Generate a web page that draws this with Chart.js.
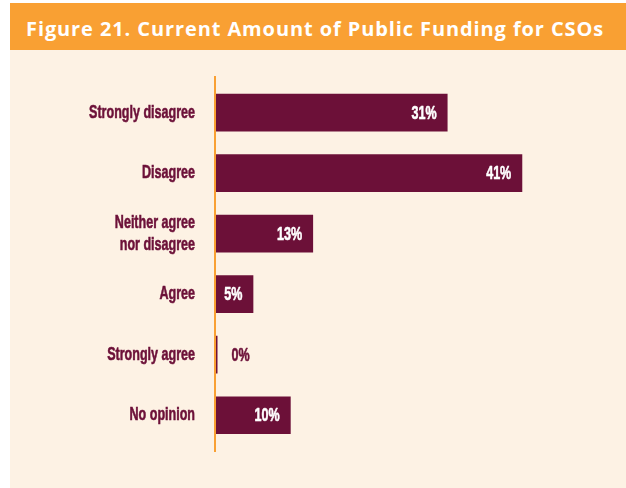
<!DOCTYPE html>
<html>
<head>
<meta charset="utf-8">
<script src="https://cdn.jsdelivr.net/npm/chart.js@4"></script>
<style>
  html, body { margin: 0; padding: 0; background: #ffffff; }
  #header {
    position: absolute; left: 10px; top: 3px; width: 616px; height: 47px;
    background: #F9A033; color: #ffffff; overflow: hidden;
    font-family: "Open Sans", "DejaVu Sans", sans-serif; font-weight: 700;
    font-size: 20px; letter-spacing: 0.9px; line-height: 51px; padding-left: 16px; box-sizing: border-box;
    white-space: nowrap;
  }
  #panel {
    position: absolute; left: 10px; top: 50px; width: 616px; height: 438px;
    background: #FDF2E4;
  }
  canvas { position: absolute; left: 0; top: 0; }
</style>
</head>
<body>
<div id="header">Figure 21. Current Amount of Public Funding for CSOs</div>
<div id="panel"><canvas id="c" width="616" height="438"></canvas></div>
<script>
const categories = [
  "Strongly disagree",
  "Disagree",
  ["Neither agree", "nor disagree"],
  "Agree",
  "Strongly agree",
  "No opinion"
];
const values = [31, 41, 13, 5, 0.2, 10];
const valueLabels = ["31%", "41%", "13%", "5%", "0%", "10%"];

const MAROON = "#6C1038";
const ORANGE = "#F9A033";
const LABEL_FONT = '"Liberation Sans", Arial, sans-serif';
const SQUEEZE = 0.66;

const axisLinePlugin = {
  id: "axisLine",
  afterDatasetsDraw(chart) {
    const { ctx, chartArea } = chart;
    ctx.save();
    ctx.strokeStyle = ORANGE;
    ctx.lineWidth = 2;
    ctx.beginPath();
    ctx.moveTo(chartArea.left - 1, chartArea.top - 6.5);
    ctx.lineTo(chartArea.left - 1, chartArea.bottom + 6.5);
    ctx.stroke();
    ctx.restore();
  }
};

// Compress the y-axis tick labels horizontally (condensed look)
const squeezeTicksPlugin = {
  id: "squeezeTicks",
  afterUpdate(chart) {
    const sc = chart.scales.y;
    if (!sc || sc._squeezed) return;
    const orig = sc.drawLabels;
    sc.drawLabels = function (area) {
      const ctx = this.ctx;
      const ax = this.right - this.options.ticks.padding;
      ctx.save();
      ctx.translate(ax, 0);
      ctx.scale(SQUEEZE, 1);
      ctx.translate(-ax, 0);
      orig.call(this, area);
      ctx.restore();
    };
    sc._squeezed = true;
  }
};

const valueLabelPlugin = {
  id: "valueLabels",
  afterDatasetsDraw(chart) {
    const { ctx } = chart;
    const meta = chart.getDatasetMeta(0);
    ctx.save();
    ctx.font = "bold 19px " + LABEL_FONT;
    ctx.textBaseline = "middle";
    ctx.lineWidth = 0.6;
    ctx.lineJoin = "round";
    meta.data.forEach((bar, i) => {
      const v = values[i];
      let x, col;
      ctx.save();
      if (v >= 3) {
        col = "#ffffff";
        ctx.textAlign = "right";
        x = bar.x - 11;
      } else {
        col = MAROON;
        ctx.textAlign = "left";
        x = bar.x + 14;
      }
      ctx.fillStyle = col;
      ctx.strokeStyle = col;
      ctx.translate(x, bar.y + 1);
      ctx.scale(SQUEEZE, 1);
      ctx.strokeText(valueLabels[i], 0, 0);
      ctx.fillText(valueLabels[i], 0, 0);
      ctx.restore();
    });
    ctx.restore();
  }
};

new Chart(document.getElementById("c"), {
  type: "bar",
  data: {
    labels: categories,
    datasets: [{
      data: values,
      backgroundColor: MAROON,
      borderWidth: 0,
      categoryPercentage: 1,
      barPercentage: 0.623
    }]
  },
  options: {
    indexAxis: "y",
    responsive: false,
    devicePixelRatio: 1,
    animation: false,
    layout: { padding: { top: 29.5, bottom: 42.5, left: 0, right: 36.5 } },
    plugins: { legend: { display: false }, tooltip: { enabled: false } },
    scales: {
      x: { display: false, min: 0, max: 50 },
      y: {
        afterFit(scale) { scale.width = 206; },
        grid: { display: false, drawTicks: false },
        border: { display: false },
        ticks: {
          padding: 21,
          color: MAROON,
          textStrokeColor: MAROON,
          textStrokeWidth: 0.6,
          font: { family: LABEL_FONT, weight: "bold", size: 19, lineHeight: 1.2 }
        }
      }
    }
  },
  plugins: [squeezeTicksPlugin, axisLinePlugin, valueLabelPlugin]
});
</script>
</body>
</html>
